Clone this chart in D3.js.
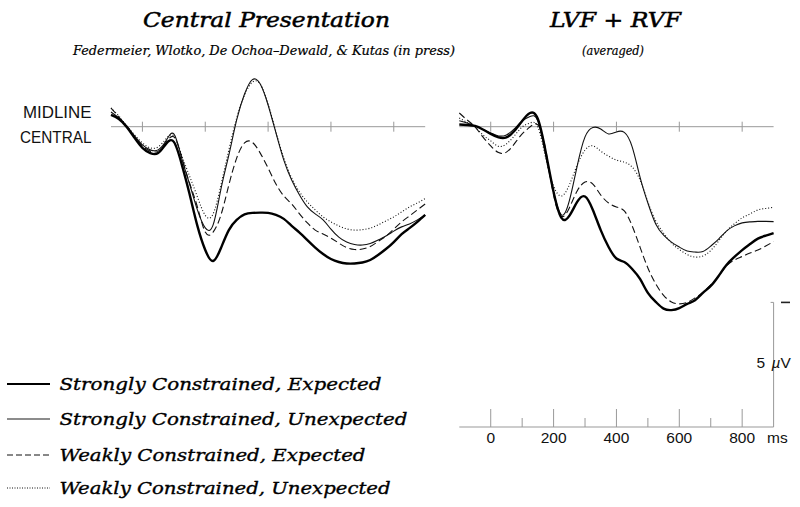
<!DOCTYPE html>
<html><head><meta charset="utf-8">
<script src="https://cdn.jsdelivr.net/npm/d3@7"></script>
<style>body{margin:0;background:#fff}svg{display:block}</style>
</head><body>
<svg id="c" width="800" height="507"></svg>
<script>
const times = [-100,-75,-50,-25,0,25,50,75,100,125,150,175,200,225,250,275,300,325,350,375,400,425,450,475,500,525,550,575,600,625,650,675,700,725,750,775,800,825,850,875,900];
// microvolts (negative plotted up)
const leftSCE = [-0.47,-0.31,0.01,0.45,0.85,1.06,1.06,0.69,0.61,1.50,2.70,3.98,4.95,5.39,4.87,4.15,3.74,3.52,3.46,3.45,3.46,3.54,3.70,3.98,4.25,4.55,4.85,5.11,5.31,5.43,5.49,5.49,5.45,5.35,5.15,4.91,4.63,4.31,4.07,3.82,3.54];
const leftSCU = [-0.59,-0.35,-0.03,0.37,0.73,0.93,0.93,0.57,0.29,1.26,2.30,3.34,4.06,3.94,2.50,1.14,-0.27,-1.31,-1.89,-1.71,-0.87,0.25,1.34,2.14,2.74,3.22,3.50,3.74,4.11,4.43,4.63,4.73,4.75,4.69,4.55,4.39,4.19,4.02,3.90,3.74,3.54];
const leftWCE = [-0.75,-0.39,0.01,0.41,0.77,0.98,0.98,0.65,0.41,1.22,2.26,3.22,4.23,4.23,3.54,2.34,1.26,0.65,0.63,1.06,1.66,2.30,2.78,3.10,3.50,3.86,4.15,4.31,4.47,4.67,4.85,4.93,4.91,4.81,4.61,4.39,4.11,3.82,3.58,3.34,3.10];
const leftWCU = [-0.75,-0.43,-0.03,0.33,0.65,0.85,0.81,0.49,0.37,1.14,1.98,2.82,3.56,3.50,2.34,0.94,-0.35,-1.27,-1.79,-1.71,-0.91,0.21,1.26,2.06,2.62,3.02,3.34,3.62,3.82,3.98,4.10,4.15,4.13,4.07,3.94,3.78,3.62,3.42,3.22,3.06,2.88];
const rightSCE = [-0.09,-0.07,-0.03,0.11,0.29,0.43,0.43,0.17,-0.23,-0.55,-0.31,1.02,2.62,3.66,3.58,3.02,2.80,3.34,4.15,4.83,5.29,5.43,5.71,6.11,6.67,7.03,7.30,7.36,7.28,7.11,6.96,6.67,6.39,5.99,5.55,5.23,4.95,4.71,4.49,4.37,4.27];
const rightSCU = [-0.24,-0.15,-0.03,0.11,0.25,0.37,0.33,0.09,-0.23,-0.41,-0.23,1.14,2.62,3.54,2.98,1.58,0.41,0.03,0.09,0.29,0.21,0.23,0.81,2.02,3.06,3.90,4.35,4.63,4.83,4.99,5.03,5.01,4.79,4.51,4.19,3.98,3.86,3.82,3.80,3.80,3.81];
const rightWCE = [-0.55,-0.27,0.01,0.41,0.77,1.04,1.02,0.69,0.29,0.01,-0.07,0.94,2.74,3.60,3.26,2.58,2.22,2.30,2.74,3.06,3.22,3.38,3.98,4.83,5.67,6.31,6.77,7.03,7.11,7.05,6.87,6.65,6.35,5.99,5.59,5.35,5.21,5.07,4.95,4.79,4.61];
const rightWCU = [-0.35,-0.17,0.01,0.33,0.57,0.79,0.69,0.37,0.01,-0.15,0.01,1.26,2.38,2.78,2.34,1.54,0.94,0.77,0.98,1.18,1.34,1.42,1.62,2.14,3.02,3.78,4.27,4.67,4.93,5.13,5.23,5.19,4.97,4.59,4.19,3.90,3.66,3.50,3.34,3.28,3.23];
const seriesNames = ["Strongly Constrained, Expected","Strongly Constrained, Unexpected","Weakly Constrained, Expected","Weakly Constrained, Unexpected"];
const tickLabels = [0,200,400,600,800];
const minorTicks = [100,300,500,700];
const scaleBarUV = 5;

const svg = d3.select("#c");
const serif = "'DejaVu Serif', serif";
const sans = "'Liberation Sans', Arial, sans-serif";
const styles = [
  {w:2.4, dash:null, c:"#000"},
  {w:1.1, dash:null, c:"#111"},
  {w:1.1, dash:"7,3.5", c:"#111"},
  {w:1.1, dash:"1,2", c:"#111"}
];
const y = d3.scaleLinear().domain([0, scaleBarUV]).range([126.7, 251.3]);
const xL = d3.scaleLinear().domain([-100, 900]).range([111.0, 425.2]);
const xR = d3.scaleLinear().domain([-100, 900]).range([459.3, 773.6]);

function panel(x, sets) {
  svg.append("line").attr("x1", x(-100)).attr("x2", x(900)).attr("y1", y(0)).attr("y2", y(0))
     .attr("stroke", "#999").attr("stroke-width", 1);
  svg.append("g").selectAll("line").data(tickLabels).join("line")
     .attr("x1", d => x(d)).attr("x2", d => x(d)).attr("y1", y(0) - 5).attr("y2", y(0) + 5)
     .attr("stroke", "#999").attr("stroke-width", 1);
  const line = d3.line().x((d, i) => x(times[i])).y(d => y(d)).curve(d3.curveNatural);
  [3, 2, 1, 0].forEach(k => {
    const s = styles[k];
    svg.append("path").datum(sets[k]).attr("d", line).attr("fill", "none")
      .attr("stroke", s.c).attr("stroke-width", s.w)
      .attr("stroke-dasharray", s.dash).attr("stroke-linejoin", "round");
  });
}
panel(xL, [leftSCE, leftSCU, leftWCE, leftWCU]);
panel(xR, [rightSCE, rightSCU, rightWCE, rightWCU]);

function txt(t, x, yy, size, opts = {}) {
  const e = svg.append("text").attr("x", x).attr("y", yy).text(t)
    .attr("font-family", opts.family || serif).attr("font-size", size)
    .attr("font-style", opts.style || "italic").attr("fill", opts.fill || "#000")
    .attr("text-anchor", opts.anchor || "start");
  if (opts.len) e.attr("textLength", opts.len).attr("lengthAdjust", "spacingAndGlyphs");
  if (opts.sw) e.attr("stroke", opts.fill || "#000").attr("stroke-width", opts.sw);
  return e;
}
txt("Central Presentation", 143, 27, 21, {len: 247, sw: 0.5});
txt("Federmeier, Wlotko, De Ochoa–Dewald, & Kutas (in press)", 73, 55, 12, {len: 382, sw: 0.2});
txt("LVF + RVF", 550, 27, 21, {len: 131, sw: 0.5});
txt("(averaged)", 582, 55, 12, {len: 62, sw: 0.2});

txt("MIDLINE", 23, 118, 16, {family: sans, style: "normal", len: 68.5, fill: "#111"});
txt("CENTRAL", 20, 143, 16, {family: sans, style: "normal", len: 71.5, fill: "#111"});

// bottom time axis (right panel)
const axY = 427;
svg.append("line").attr("x1", xR(-100)).attr("x2", xR(900)).attr("y1", axY).attr("y2", axY)
   .attr("stroke", "#999").attr("stroke-width", 1);
svg.append("g").selectAll("line").data(tickLabels).join("line")
   .attr("x1", d => xR(d)).attr("x2", d => xR(d)).attr("y1", axY - 18).attr("y2", axY)
   .attr("stroke", "#999").attr("stroke-width", 1);
svg.append("g").selectAll("line").data(minorTicks).join("line")
   .attr("x1", d => xR(d)).attr("x2", d => xR(d)).attr("y1", axY - 9).attr("y2", axY)
   .attr("stroke", "#999").attr("stroke-width", 1);
svg.append("g").selectAll("text").data(tickLabels).join("text")
   .attr("x", d => xR(d)).attr("y", 442.5).attr("text-anchor", "middle")
   .attr("font-family", sans).attr("font-size", 15.5).attr("fill", "#111").text(d => d);
txt("ms", 767, 442.5, 15.5, {family: sans, style: "normal", fill: "#111"});

// scale bar
const barX = xR(900);
const barTop = axY - (y(scaleBarUV) - y(0));
svg.append("line").attr("x1", barX).attr("x2", barX).attr("y1", barTop).attr("y2", axY)
   .attr("stroke", "#999").attr("stroke-width", 1);
svg.append("line").attr("x1", barX - 3).attr("x2", barX).attr("y1", barTop).attr("y2", barTop)
   .attr("stroke", "#999").attr("stroke-width", 1);
svg.append("line").attr("x1", 781).attr("x2", 790).attr("y1", barTop).attr("y2", barTop)
   .attr("stroke", "#222").attr("stroke-width", 1.6);
const sb = svg.append("text").attr("x", 756.5).attr("y", 367.5).attr("font-family", sans).attr("font-size", 15.5).attr("fill", "#111");
sb.append("tspan").text(scaleBarUV + " ");
sb.append("tspan").attr("font-style", "italic").attr("dx", 2).text("µ");
sb.append("tspan").text("V");

// legend
const legY = [384, 419, 455, 488];
const legLen = [322, 348, 306, 331];
seriesNames.forEach((n, k) => {
  const s = styles[k];
  svg.append("line").attr("x1", 7).attr("x2", 50).attr("y1", legY[k]).attr("y2", legY[k])
     .attr("stroke", k === 1 ? "#666" : s.c).attr("stroke-width", k === 0 ? 2.2 : (k === 1 ? 1.6 : 1))
     .attr("stroke-dasharray", k === 2 ? "6,3" : (k === 3 ? "1,1.5" : null));
  txt(n, 59.5, legY[k] + 6, 17, {len: legLen[k], sw: 0.35});
});
</script>
</body></html>
